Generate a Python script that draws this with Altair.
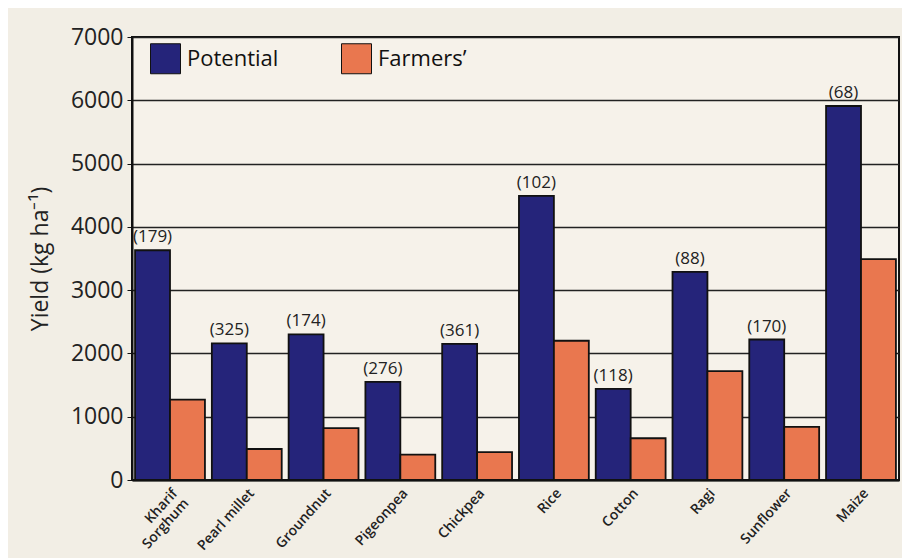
import altair as alt
import pandas as pd

crops = ["Kharif\nSorghum", "Pearl millet", "Groundnut", "Pigeonpea", "Chickpea",
         "Rice", "Cotton", "Ragi", "Sunflower", "Maize"]
potential = [3630, 2160, 2300, 1550, 2150, 4490, 1440, 3290, 2220, 5910]
farmers = [1270, 490, 820, 400, 440, 2200, 660, 1720, 840, 3490]
gap_labels = ["(179)", "(325)", "(174)", "(276)", "(361)", "(102)", "(118)", "(88)", "(170)", "(68)"]
series = ["Potential", "Farmers\u2019"]
colors = ["#25247a", "#e9774f"]

rows = []
for c, p, f, g in zip(crops, potential, farmers, gap_labels):
    rows.append({"crop": c, "series": series[0], "value": p, "label": g})
    rows.append({"crop": c, "series": series[1], "value": f, "label": ""})
df = pd.DataFrame(rows)

FONT = "Open Sans"

x = alt.X("crop:N", sort=crops, title=None,
          scale=alt.Scale(paddingInner=0.09, paddingOuter=0.04),
          axis=alt.Axis(labelAngle=-48, labelAlign="right", labelBaseline="top",
                        labelFontSize=14, labelFont=FONT, labelColor="#222",
                        labelFontWeight=600, labelLineHeight=15,
                        ticks=False, domain=True, domainColor="#111", domainWidth=2,
                        labelPadding=6,
                        labelExpr="split(datum.label, '\\n')"))
xo = alt.XOffset("series:N", sort=series, scale=alt.Scale(paddingInner=0.0))

bars = alt.Chart(df).mark_bar(stroke="#111", strokeWidth=1.8).encode(
    x=x,
    xOffset=xo,
    y=alt.Y("value:Q", title="Yield (kg ha\u207b\u00b9)",
            scale=alt.Scale(domain=[0, 7000], nice=False),
            axis=alt.Axis(values=[0, 1000, 2000, 3000, 4000, 5000, 6000, 7000],
                          format="d",
                          labelFontSize=23, labelFont=FONT, labelColor="#222",
                          titleFontSize=23, titleFont=FONT, titleFontWeight="normal",
                          titleColor="#222", titlePadding=18,
                          grid=True, gridColor="#222", gridWidth=1.6, gridOpacity=1,
                          domainColor="#111", domainWidth=2,
                          tickColor="#111", tickSize=5, labelPadding=4)),
    color=alt.Color("series:N", sort=series,
                    scale=alt.Scale(domain=series, range=colors),
                    legend=alt.Legend(title=None, orient="none", legendX=18, legendY=6,
                                      direction="horizontal", symbolType="square",
                                      symbolSize=900, symbolStrokeColor="#111",
                                      symbolStrokeWidth=1, labelFontSize=22,
                                      labelFont=FONT, labelColor="#111",
                                      columnPadding=60, labelOffset=6,
                                      symbolOpacity=1)),
)

texts = alt.Chart(df).mark_text(dy=-13, fontSize=17, font=FONT, color="#222").encode(
    x=x,
    xOffset=xo,
    y=alt.Y("value:Q"),
    text="label:N",
)

chart = (bars + texts).properties(
    width=767, height=443,
    background="#f2eee5",
    padding={"left": 124, "top": 29, "right": 3, "bottom": 78},
    autosize=alt.AutoSizeParams(type="none"),
).configure_view(
    stroke="#111", strokeWidth=2, fill="#f6f2ea"
)

chart.save("out.html", embed_options={"renderer": "svg", "actions": False})
